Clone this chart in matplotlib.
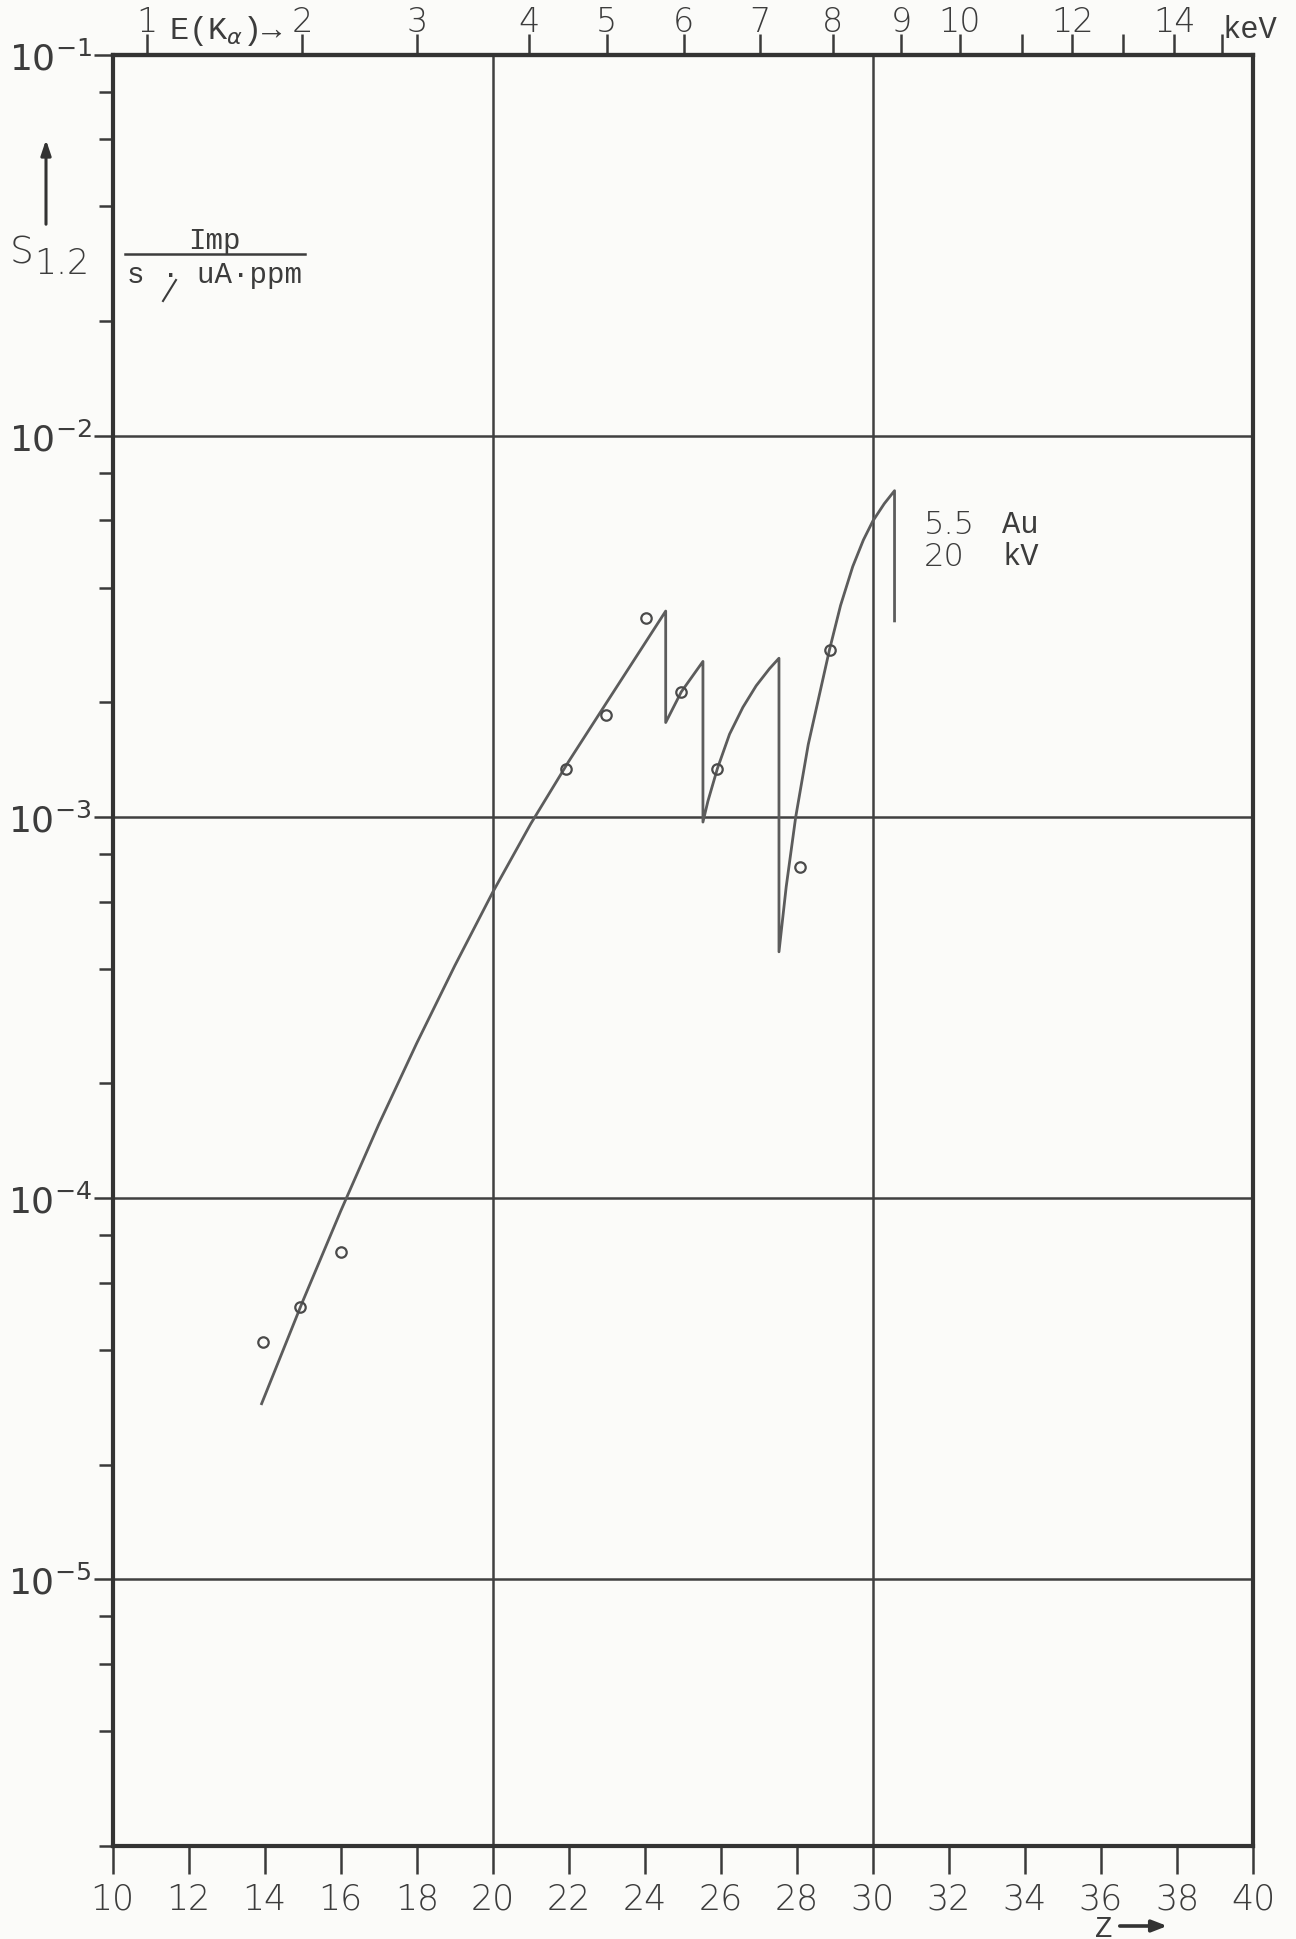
import numpy as np
import matplotlib.pyplot as plt
from matplotlib.ticker import LogLocator, NullFormatter
from matplotlib.lines import Line2D

# sensitivity curve S_1.2 vs. atomic number Z (jumps = repeated Z)
curve_z = [13.92, 15.0, 16.0, 17.0, 18.0, 19.0, 20.0, 21.0, 22.0, 23.0, 24.55,
           24.55, 24.96, 25.53,
           25.53, 25.66, 25.91, 26.23, 26.58, 26.93, 27.28, 27.53,
           27.53, 27.72, 27.97, 28.3, 28.86, 29.15, 29.47, 29.75, 30.0, 30.3, 30.57,
           30.57]
curve_s = [2.89e-5, 5.36e-5, 9.25e-5, 1.56e-4, 2.55e-4, 4.07e-4, 6.35e-4, 9.6e-4, 1.4e-3, 2.0e-3, 3.47e-3,
           1.77e-3, 2.13e-3, 2.56e-3,
           9.7e-4, 1.1e-3, 1.34e-3, 1.65e-3, 1.94e-3, 2.21e-3, 2.45e-3, 2.61e-3,
           4.43e-4, 6.56e-4, 1.0e-3, 1.55e-3, 2.75e-3, 3.59e-3, 4.54e-3, 5.33e-3, 5.98e-3, 6.64e-3, 7.18e-3,
           3.27e-3]

# measured points (open circles)
point_z = [13.95, 14.94, 16.02, 21.94, 22.99, 24.04, 24.96, 25.91, 28.07, 28.86]
point_s = [4.2e-5, 5.18e-5, 7.24e-5, 1.34e-3, 1.85e-3, 3.32e-3, 2.13e-3, 1.34e-3, 7.4e-4, 2.75e-3]

z_major = [10, 20, 30, 40]
z_minor = [12, 14, 16, 18, 22, 24, 26, 28, 32, 34, 36, 38]
y_major = [1e-5, 1e-4, 1e-3, 1e-2, 1e-1]
y_labels = ['$10^{-5}$', '$10^{-4}$', '$10^{-3}$', '$10^{-2}$', '$10^{-1}$']

# top scale: K-alpha energy in keV, positions in Z
kev_z = [10.90, 14.98, 18.00, 20.95, 23.00, 25.02, 27.02, 28.94, 30.75, 32.28,
         33.93, 35.25, 36.59, 37.93, 39.19]
kev_labels = ['1', '2', '3', '4', '5', '6', '7', '8', '9', '10', '', '12', '', '14', '']

W, H = 1296, 1940
ink = '#3a3a3a'
txt = '#3c3c3c'
digit_font = dict(family='DejaVu Sans', fontweight='light')
mono = ['Liberation Mono', 'DejaVu Sans']


def px(x, y):
    return x / W, 1 - y / H


fig = plt.figure(figsize=(W / 100, H / 100), dpi=100)
fig.patch.set_facecolor('#fbfbf9')
ax = fig.add_axes([112.6 / W, (H - 1846.8) / H, 1140.4 / W, (1846.8 - 55.7) / H])
ax.set_facecolor('#fbfbf9')

ax.set_yscale('log')
ax.set_xlim(10, 40)
ax.set_ylim(2e-6, 1e-1)

ax.plot(curve_z, curve_s, color='#5c5c5c', lw=2.0)
ax.plot(point_z, point_s, 'o', mfc='none', mec='#4a4a4a', ms=7.5, mew=1.6)

ax.set_xticks(z_major)
ax.set_xticklabels([str(z) for z in z_major])
ax.set_xticks(z_minor, minor=True)
ax.set_xticklabels([str(z) for z in z_minor], minor=True)
ax.set_yticks(y_major)
ax.set_yticklabels(y_labels)
ax.yaxis.set_minor_locator(LogLocator(base=10, subs=[2, 4, 6, 8], numticks=20))
ax.yaxis.set_minor_formatter(NullFormatter())

ax.tick_params(axis='x', which='both', direction='out', length=20, width=1.8,
               color=ink, labelcolor=txt, labelsize=25, pad=6)
ax.tick_params(axis='y', which='major', direction='out', length=14, width=1.8,
               color=ink, labelcolor=txt, labelsize=26, pad=1)
ax.tick_params(axis='y', which='minor', direction='out', length=10, width=1.8, color=ink)
for lab in ax.get_xticklabels(which='both') + ax.get_yticklabels():
    lab.set(**digit_font)

ax.grid(True, which='major', axis='both', color='#404040', lw=1.8)
for sp in ax.spines.values():
    sp.set_linewidth(3)
    sp.set_color('#333333')

top = ax.secondary_xaxis('top')
top.set_xticks(kev_z)
top.set_xticklabels(kev_labels)
top.tick_params(axis='x', direction='out', length=15, width=1.8, color=ink,
                labelcolor=txt, labelsize=24, pad=-3)
for lab in top.get_xticklabels():
    lab.set(**digit_font)
top.spines['top'].set_linewidth(3)
top.spines['top'].set_color('#333333')

# top scale annotations
fig.text(*px(226, 39), r'E(K$_{\alpha}$)→', ha='center', va='baseline', fontsize=23,
         family=mono, color=txt)
fig.text(*px(1250, 38), 'keV', ha='center', va='baseline', fontsize=22,
         family=mono, color=txt)

# y axis label with arrow and unit
ax.annotate('', xy=px(46, 138), xytext=px(46, 228), xycoords='figure fraction',
            arrowprops=dict(arrowstyle='-|>,head_width=0.3,head_length=0.9', lw=2.2,
                            color='#333333'))
fig.text(*px(10, 263), 'S', ha='left', va='baseline', fontsize=27, color=txt,
         **digit_font)
fig.text(*px(34, 274), '1.2', ha='left', va='baseline', fontsize=25, color=txt,
         **digit_font)
fig.text(*px(214, 249), 'Imp', ha='center', va='baseline', fontsize=21,
         family=mono, color=txt)
fig.add_artist(Line2D([125 / W, 305 / W], [1 - 255 / H, 1 - 255 / H], color=txt, lw=1.8))
fig.text(*px(214, 283), 's · uA·ppm', ha='center', va='baseline', fontsize=21,
         family=mono, color=txt)
fig.add_artist(Line2D([163 / W, 176 / W], [1 - 302 / H, 1 - 281 / H], color=txt, lw=1.5))

# curve annotation (tube anode and voltage)
fig.text(*px(924, 541), '5.5\n20', ha='left', va='center', fontsize=23, color=txt,
         linespacing=1.12, **digit_font)
fig.text(*px(1002, 541), 'Au\nkV', ha='left', va='center', fontsize=22, family=mono,
         color=txt, linespacing=1.05)

# x axis label
fig.text(*px(1095, 1937), 'Z', ha='left', va='baseline', fontsize=21, family=mono,
         color=txt)
ax.annotate('', xy=px(1170, 1927), xytext=px(1117, 1927), xycoords='figure fraction',
            arrowprops=dict(arrowstyle='-|>,head_width=0.35,head_length=0.9', lw=2.6,
                            color='#333333'))

fig.savefig('out.png', dpi=100, facecolor=fig.get_facecolor())
